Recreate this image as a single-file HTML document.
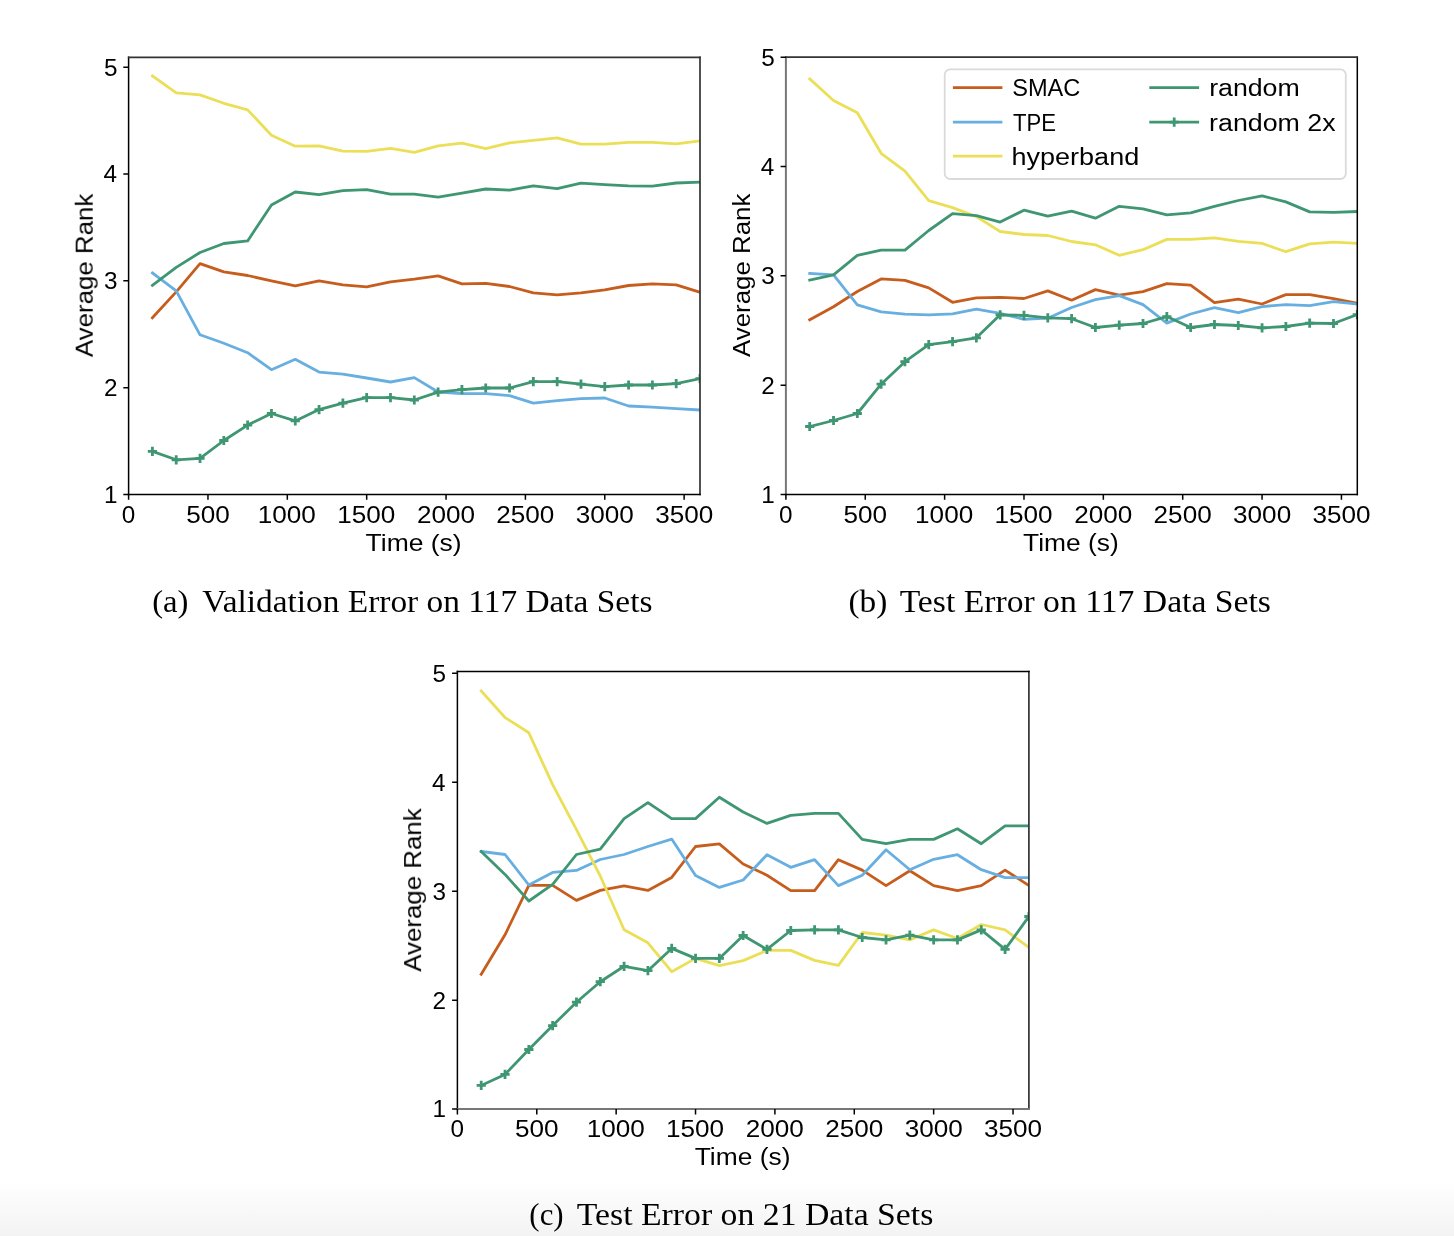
<!DOCTYPE html>
<html><head><meta charset="utf-8"><style>html,body{margin:0;padding:0;background:#fff;width:1454px;height:1236px;overflow:hidden}svg{display:block}text{fill:#000}</style></head><body>
<svg width="1454" height="1236" viewBox="0 0 1454 1236">
<defs><linearGradient id="bg" x1="0" y1="0" x2="0" y2="1"><stop offset="0" stop-color="#ffffff"/><stop offset="1" stop-color="#f3f3f3"/></linearGradient>
<clipPath id="clipa"><rect x="128.6" y="57.3" width="571.4" height="437.2"/></clipPath>
<clipPath id="clipb"><rect x="785.9" y="57.2" width="571.4" height="437.3"/></clipPath>
<clipPath id="clipc"><rect x="457.4" y="671.6" width="571.5000000000001" height="437.4999999999999"/></clipPath>
</defs>
<rect x="0" y="0" width="1454" height="1236" fill="#fff"/>
<rect x="0" y="1182" width="1454" height="54" fill="url(#bg)"/>
<g clip-path="url(#clipa)" fill="none" stroke-width="2.8" stroke-linejoin="round" stroke-linecap="square">
<polyline points="152.41,317.80 176.22,291.90 200.02,263.60 223.83,271.90 247.64,275.50 271.45,280.90 295.26,285.90 319.07,280.90 342.88,284.90 366.68,286.90 390.49,281.90 414.30,279.20 438.11,275.90 461.92,283.90 485.72,283.30 509.53,286.50 533.34,292.90 557.15,294.90 580.96,292.90 604.77,289.90 628.57,285.50 652.38,283.90 676.19,284.90 700.00,292.30" stroke="#c75d1d"/>
<polyline points="152.41,272.90 176.22,290.90 200.02,334.80 223.83,343.30 247.64,352.70 271.45,369.70 295.26,359.30 319.07,372.10 342.88,374.10 366.68,378.00 390.49,382.00 414.30,377.60 438.11,392.00 461.92,393.60 485.72,393.60 509.53,395.60 533.34,403.20 557.15,400.60 580.96,398.60 604.77,398.00 628.57,406.00 652.38,407.20 676.19,408.60 700.00,410.00" stroke="#67afe0"/>
<polyline points="152.41,75.90 176.22,92.90 200.02,94.90 223.83,103.30 247.64,109.90 271.45,135.20 295.26,146.20 319.07,145.80 342.88,151.10 366.68,151.30 390.49,148.30 414.30,152.30 438.11,145.80 461.92,143.20 485.72,148.70 509.53,142.80 533.34,140.40 557.15,137.80 580.96,144.20 604.77,144.20 628.57,142.40 652.38,142.40 676.19,143.80 700.00,140.80" stroke="#ebdf58"/>
<polyline points="152.41,285.40 176.22,267.40 200.02,252.50 223.83,243.50 247.64,240.90 271.45,205.00 295.26,192.00 319.07,194.60 342.88,190.60 366.68,189.60 390.49,194.20 414.30,194.20 438.11,197.20 461.92,193.20 485.72,189.00 509.53,190.20 533.34,185.80 557.15,188.60 580.96,183.20 604.77,184.60 628.57,185.80 652.38,186.20 676.19,183.00 700.00,182.20" stroke="#3f9672"/>
<polyline points="152.41,451.40 176.22,459.80 200.02,458.40 223.83,440.50 247.64,425.10 271.45,413.50 295.26,420.90 319.07,409.60 342.88,403.20 366.68,397.60 390.49,397.60 414.30,400.00 438.11,392.20 461.92,389.60 485.72,388.00 509.53,388.00 533.34,381.60 557.15,381.60 580.96,384.20 604.77,386.60 628.57,385.00 652.38,385.00 676.19,383.60 700.00,378.60" stroke="#3f9672"/>
<path d="M147.81,451.40h9.2M152.41,446.80v9.2M171.62,459.80h9.2M176.22,455.20v9.2M195.42,458.40h9.2M200.02,453.80v9.2M219.23,440.50h9.2M223.83,435.90v9.2M243.04,425.10h9.2M247.64,420.50v9.2M266.85,413.50h9.2M271.45,408.90v9.2M290.66,420.90h9.2M295.26,416.30v9.2M314.47,409.60h9.2M319.07,405.00v9.2M338.27,403.20h9.2M342.88,398.60v9.2M362.08,397.60h9.2M366.68,393.00v9.2M385.89,397.60h9.2M390.49,393.00v9.2M409.70,400.00h9.2M414.30,395.40v9.2M433.51,392.20h9.2M438.11,387.60v9.2M457.32,389.60h9.2M461.92,385.00v9.2M481.12,388.00h9.2M485.72,383.40v9.2M504.93,388.00h9.2M509.53,383.40v9.2M528.74,381.60h9.2M533.34,377.00v9.2M552.55,381.60h9.2M557.15,377.00v9.2M576.36,384.20h9.2M580.96,379.60v9.2M600.17,386.60h9.2M604.77,382.00v9.2M623.97,385.00h9.2M628.57,380.40v9.2M647.78,385.00h9.2M652.38,380.40v9.2M671.59,383.60h9.2M676.19,379.00v9.2M695.40,378.60h9.2M700.00,374.00v9.2" stroke="#3f9672" stroke-width="2.8" stroke-linecap="butt"/>
</g>
<path d="M128.60,56.55V495.25" stroke="#000" stroke-width="1.5" fill="none"/>
<path d="M700.00,56.55V495.25" stroke="#333" stroke-width="1.7" fill="none"/>
<path d="M127.85,57.30H700.75" stroke="#333" stroke-width="1.7" fill="none"/>
<path d="M127.85,494.50H700.75" stroke="#000" stroke-width="1.5" fill="none"/>
<path d="M128.60,494.50v5.3M207.96,494.50v5.3M287.32,494.50v5.3M366.68,494.50v5.3M446.04,494.50v5.3M525.41,494.50v5.3M604.77,494.50v5.3M684.13,494.50v5.3M128.60,494.50h-5.3M128.60,387.67h-5.3M128.60,280.84h-5.3M128.60,174.01h-5.3M128.60,67.18h-5.3" stroke="#000" stroke-width="1.5"/>
<g clip-path="url(#clipb)" fill="none" stroke-width="2.8" stroke-linejoin="round" stroke-linecap="square">
<polyline points="809.71,319.80 833.52,306.80 857.32,291.50 881.13,278.90 904.94,280.30 928.75,287.90 952.56,302.30 976.37,297.90 1000.17,297.30 1023.98,298.50 1047.79,290.90 1071.60,300.20 1095.41,289.60 1119.22,295.20 1143.02,291.60 1166.83,283.70 1190.64,285.20 1214.45,302.60 1238.26,299.20 1262.07,304.00 1285.88,294.60 1309.68,294.60 1333.49,298.60 1357.30,303.20" stroke="#c75d1d"/>
<polyline points="809.71,273.50 833.52,274.90 857.32,304.80 881.13,311.80 904.94,314.20 928.75,314.80 952.56,313.80 976.37,309.20 1000.17,313.40 1023.98,319.40 1047.79,318.20 1071.60,307.50 1095.41,299.60 1119.22,295.60 1143.02,304.60 1166.83,323.10 1190.64,314.00 1214.45,307.60 1238.26,312.60 1262.07,306.60 1285.88,304.60 1309.68,305.60 1333.49,301.60 1357.30,304.00" stroke="#67afe0"/>
<polyline points="809.71,78.90 833.52,100.50 857.32,112.80 881.13,153.30 904.94,171.10 928.75,200.60 952.56,207.60 976.37,216.60 1000.17,231.50 1023.98,234.50 1047.79,235.50 1071.60,241.50 1095.41,244.80 1119.22,255.30 1143.02,249.70 1166.83,239.40 1190.64,239.40 1214.45,237.80 1238.26,241.40 1262.07,243.40 1285.88,251.70 1309.68,243.80 1333.49,242.20 1357.30,243.40" stroke="#ebdf58"/>
<polyline points="809.71,280.00 833.52,274.80 857.32,255.40 881.13,250.10 904.94,250.10 928.75,230.50 952.56,213.60 976.37,215.60 1000.17,222.10 1023.98,210.20 1047.79,216.20 1071.60,211.20 1095.41,218.20 1119.22,206.30 1143.02,208.90 1166.83,214.80 1190.64,212.90 1214.45,206.30 1238.26,200.50 1262.07,195.90 1285.88,201.90 1309.68,211.90 1333.49,212.30 1357.30,211.50" stroke="#3f9672"/>
<polyline points="809.71,426.50 833.52,420.50 857.32,413.50 881.13,384.20 904.94,361.70 928.75,344.70 952.56,341.70 976.37,337.80 1000.17,314.80 1023.98,315.40 1047.79,317.80 1071.60,318.70 1095.41,327.50 1119.22,325.10 1143.02,323.50 1166.83,316.60 1190.64,327.50 1214.45,324.50 1238.26,325.50 1262.07,327.90 1285.88,326.50 1309.68,323.10 1333.49,323.50 1357.30,314.60" stroke="#3f9672"/>
<path d="M805.11,426.50h9.2M809.71,421.90v9.2M828.92,420.50h9.2M833.52,415.90v9.2M852.72,413.50h9.2M857.32,408.90v9.2M876.53,384.20h9.2M881.13,379.60v9.2M900.34,361.70h9.2M904.94,357.10v9.2M924.15,344.70h9.2M928.75,340.10v9.2M947.96,341.70h9.2M952.56,337.10v9.2M971.77,337.80h9.2M976.37,333.20v9.2M995.57,314.80h9.2M1000.17,310.20v9.2M1019.38,315.40h9.2M1023.98,310.80v9.2M1043.19,317.80h9.2M1047.79,313.20v9.2M1067.00,318.70h9.2M1071.60,314.10v9.2M1090.81,327.50h9.2M1095.41,322.90v9.2M1114.62,325.10h9.2M1119.22,320.50v9.2M1138.42,323.50h9.2M1143.02,318.90v9.2M1162.23,316.60h9.2M1166.83,312.00v9.2M1186.04,327.50h9.2M1190.64,322.90v9.2M1209.85,324.50h9.2M1214.45,319.90v9.2M1233.66,325.50h9.2M1238.26,320.90v9.2M1257.47,327.90h9.2M1262.07,323.30v9.2M1281.28,326.50h9.2M1285.88,321.90v9.2M1305.08,323.10h9.2M1309.68,318.50v9.2M1328.89,323.50h9.2M1333.49,318.90v9.2M1352.70,314.60h9.2M1357.30,310.00v9.2" stroke="#3f9672" stroke-width="2.8" stroke-linecap="butt"/>
</g>
<path d="M785.90,56.45V495.25" stroke="#777" stroke-width="2.0" fill="none"/>
<path d="M1357.30,56.45V495.25" stroke="#000" stroke-width="1.5" fill="none"/>
<path d="M785.15,57.20H1358.05" stroke="#333" stroke-width="1.7" fill="none"/>
<path d="M785.15,494.50H1358.05" stroke="#000" stroke-width="1.5" fill="none"/>
<path d="M785.90,494.50v5.3M865.26,494.50v5.3M944.62,494.50v5.3M1023.98,494.50v5.3M1103.34,494.50v5.3M1182.71,494.50v5.3M1262.07,494.50v5.3M1341.43,494.50v5.3M785.90,494.50h-5.3M785.90,385.17h-5.3M785.90,275.84h-5.3M785.90,166.51h-5.3M785.90,57.18h-5.3" stroke="#000" stroke-width="1.5"/>
<g clip-path="url(#clipc)" fill="none" stroke-width="2.8" stroke-linejoin="round" stroke-linecap="square">
<polyline points="481.21,974.30 505.02,934.80 528.84,885.40 552.65,885.40 576.46,900.40 600.27,890.40 624.09,885.80 647.90,890.40 671.71,877.40 695.53,846.50 719.34,843.90 743.15,864.00 766.96,875.20 790.78,890.60 814.59,890.60 838.40,859.70 862.21,870.10 886.03,885.60 909.84,870.70 933.65,885.60 957.46,890.60 981.28,885.60 1005.09,870.10 1028.90,885.60" stroke="#c75d1d"/>
<polyline points="481.21,851.50 505.02,854.50 528.84,885.00 552.65,872.40 576.46,870.40 600.27,859.50 624.09,854.50 647.90,846.50 671.71,839.10 695.53,875.40 719.34,887.40 743.15,880.00 766.96,854.70 790.78,867.30 814.59,859.70 838.40,885.60 862.21,875.20 886.03,849.70 909.84,869.70 933.65,859.30 957.46,854.70 981.28,869.70 1005.09,877.60 1028.90,877.60" stroke="#67afe0"/>
<polyline points="481.21,690.90 505.02,717.50 528.84,732.80 552.65,784.70 576.46,829.60 600.27,876.00 624.09,929.80 647.90,942.80 671.71,971.70 695.53,958.40 719.34,965.70 743.15,960.60 766.96,950.40 790.78,950.40 814.59,960.40 838.40,965.40 862.21,932.50 886.03,935.10 909.84,939.90 933.65,929.90 957.46,938.50 981.28,924.50 1005.09,929.90 1028.90,947.40" stroke="#ebdf58"/>
<polyline points="481.21,851.50 505.02,874.40 528.84,901.00 552.65,884.40 576.46,854.50 600.27,849.10 624.09,818.60 647.90,802.60 671.71,818.60 695.53,818.60 719.34,797.30 743.15,812.00 766.96,823.40 790.78,815.40 814.59,813.40 838.40,813.40 862.21,839.40 886.03,843.70 909.84,839.40 933.65,839.40 957.46,828.80 981.28,843.70 1005.09,825.80 1028.90,825.80" stroke="#3f9672"/>
<polyline points="481.21,1085.40 505.02,1074.40 528.84,1049.50 552.65,1025.60 576.46,1002.20 600.27,981.70 624.09,966.30 647.90,970.70 671.71,948.40 695.53,958.40 719.34,958.40 743.15,935.50 766.96,949.40 790.78,930.50 814.59,929.90 838.40,929.90 862.21,937.50 886.03,939.90 909.84,935.10 933.65,939.90 957.46,939.90 981.28,929.90 1005.09,949.40 1028.90,916.50" stroke="#3f9672"/>
<path d="M476.61,1085.40h9.2M481.21,1080.80v9.2M500.42,1074.40h9.2M505.02,1069.80v9.2M524.24,1049.50h9.2M528.84,1044.90v9.2M548.05,1025.60h9.2M552.65,1021.00v9.2M571.86,1002.20h9.2M576.46,997.60v9.2M595.67,981.70h9.2M600.27,977.10v9.2M619.49,966.30h9.2M624.09,961.70v9.2M643.30,970.70h9.2M647.90,966.10v9.2M667.11,948.40h9.2M671.71,943.80v9.2M690.93,958.40h9.2M695.53,953.80v9.2M714.74,958.40h9.2M719.34,953.80v9.2M738.55,935.50h9.2M743.15,930.90v9.2M762.36,949.40h9.2M766.96,944.80v9.2M786.18,930.50h9.2M790.78,925.90v9.2M809.99,929.90h9.2M814.59,925.30v9.2M833.80,929.90h9.2M838.40,925.30v9.2M857.61,937.50h9.2M862.21,932.90v9.2M881.43,939.90h9.2M886.03,935.30v9.2M905.24,935.10h9.2M909.84,930.50v9.2M929.05,939.90h9.2M933.65,935.30v9.2M952.86,939.90h9.2M957.46,935.30v9.2M976.68,929.90h9.2M981.28,925.30v9.2M1000.49,949.40h9.2M1005.09,944.80v9.2M1024.30,916.50h9.2M1028.90,911.90v9.2" stroke="#3f9672" stroke-width="2.8" stroke-linecap="butt"/>
</g>
<path d="M457.40,670.85V1109.85" stroke="#000" stroke-width="1.5" fill="none"/>
<path d="M1028.90,670.85V1109.85" stroke="#333" stroke-width="1.7" fill="none"/>
<path d="M456.65,671.60H1029.65" stroke="#000" stroke-width="1.5" fill="none"/>
<path d="M456.65,1109.10H1029.65" stroke="#777" stroke-width="2.0" fill="none"/>
<path d="M457.40,1109.10v5.3M536.77,1109.10v5.3M616.15,1109.10v5.3M695.53,1109.10v5.3M774.90,1109.10v5.3M854.28,1109.10v5.3M933.65,1109.10v5.3M1013.03,1109.10v5.3M457.40,1109.10h-5.3M457.40,1000.15h-5.3M457.40,891.20h-5.3M457.40,782.25h-5.3M457.40,673.30h-5.3" stroke="#000" stroke-width="1.5"/>
<rect x="944.7" y="69.3" width="401.1" height="109.7" rx="5.5" ry="5.5" fill="#fff" fill-opacity="0.8" stroke="#dadada" stroke-width="1.8"/>
<path d="M952.9,87.7H1002.4" stroke="#c75d1d" stroke-width="2.8" stroke-linecap="butt"/>
<path d="M952.9,122.2H1002.4" stroke="#67afe0" stroke-width="2.8" stroke-linecap="butt"/>
<path d="M952.9,156.2H1002.4" stroke="#ebdf58" stroke-width="2.8" stroke-linecap="butt"/>
<path d="M1149.3,87.7H1199.1" stroke="#3f9672" stroke-width="2.8" stroke-linecap="butt"/>
<path d="M1149.3,122.2H1199.1" stroke="#3f9672" stroke-width="2.8" stroke-linecap="butt"/>
<path d="M1169.60,122.2h9.2M1174.20,117.60v9.2" stroke="#3f9672" stroke-width="2.8"/>
<g style="opacity:0.999">
<text transform="translate(121.80,522.56) scale(1.0000,1)" font-family="Liberation Sans" font-size="24.3" >0</text>
<text transform="translate(186.15,522.56) scale(1.0750,1)" font-family="Liberation Sans" font-size="24.3" >500</text>
<text transform="translate(257.80,522.56) scale(1.0750,1)" font-family="Liberation Sans" font-size="24.3" >1000</text>
<text transform="translate(337.16,522.56) scale(1.0750,1)" font-family="Liberation Sans" font-size="24.3" >1500</text>
<text transform="translate(416.92,522.56) scale(1.0750,1)" font-family="Liberation Sans" font-size="24.3" >2000</text>
<text transform="translate(496.28,522.56) scale(1.0750,1)" font-family="Liberation Sans" font-size="24.3" >2500</text>
<text transform="translate(575.77,522.56) scale(1.0750,1)" font-family="Liberation Sans" font-size="24.3" >3000</text>
<text transform="translate(655.13,522.56) scale(1.0750,1)" font-family="Liberation Sans" font-size="24.3" >3500</text>
<text transform="translate(104.11,502.88) scale(1.0000,1)" font-family="Liberation Sans" font-size="24.3" >1</text>
<text transform="translate(104.11,396.18) scale(1.0000,1)" font-family="Liberation Sans" font-size="24.3" >2</text>
<text transform="translate(104.11,289.35) scale(1.0000,1)" font-family="Liberation Sans" font-size="24.3" >3</text>
<text transform="translate(103.62,182.39) scale(1.0000,1)" font-family="Liberation Sans" font-size="24.3" >4</text>
<text transform="translate(104.11,75.56) scale(1.0000,1)" font-family="Liberation Sans" font-size="24.3" >5</text>
<text transform="translate(365.57,551.00) scale(1.0908,1)" font-family="Liberation Sans" font-size="24.3" >Time (s)</text>
<text transform="translate(92.70,357.10) rotate(-90) scale(1.0646,1)" font-family="Liberation Sans" font-size="24.3">Average Rank</text>
<text transform="translate(779.10,522.56) scale(1.0000,1)" font-family="Liberation Sans" font-size="24.3" >0</text>
<text transform="translate(843.45,522.56) scale(1.0750,1)" font-family="Liberation Sans" font-size="24.3" >500</text>
<text transform="translate(915.10,522.56) scale(1.0750,1)" font-family="Liberation Sans" font-size="24.3" >1000</text>
<text transform="translate(994.46,522.56) scale(1.0750,1)" font-family="Liberation Sans" font-size="24.3" >1500</text>
<text transform="translate(1074.22,522.56) scale(1.0750,1)" font-family="Liberation Sans" font-size="24.3" >2000</text>
<text transform="translate(1153.58,522.56) scale(1.0750,1)" font-family="Liberation Sans" font-size="24.3" >2500</text>
<text transform="translate(1233.07,522.56) scale(1.0750,1)" font-family="Liberation Sans" font-size="24.3" >3000</text>
<text transform="translate(1312.43,522.56) scale(1.0750,1)" font-family="Liberation Sans" font-size="24.3" >3500</text>
<text transform="translate(761.31,502.88) scale(1.0000,1)" font-family="Liberation Sans" font-size="24.3" >1</text>
<text transform="translate(761.31,393.68) scale(1.0000,1)" font-family="Liberation Sans" font-size="24.3" >2</text>
<text transform="translate(761.31,284.35) scale(1.0000,1)" font-family="Liberation Sans" font-size="24.3" >3</text>
<text transform="translate(760.82,174.89) scale(1.0000,1)" font-family="Liberation Sans" font-size="24.3" >4</text>
<text transform="translate(761.31,65.56) scale(1.0000,1)" font-family="Liberation Sans" font-size="24.3" >5</text>
<text transform="translate(1023.07,551.00) scale(1.0862,1)" font-family="Liberation Sans" font-size="24.3" >Time (s)</text>
<text transform="translate(750.00,357.00) rotate(-90) scale(1.0646,1)" font-family="Liberation Sans" font-size="24.3">Average Rank</text>
<text transform="translate(450.60,1136.56) scale(1.0000,1)" font-family="Liberation Sans" font-size="24.3" >0</text>
<text transform="translate(514.96,1136.56) scale(1.0750,1)" font-family="Liberation Sans" font-size="24.3" >500</text>
<text transform="translate(586.63,1136.56) scale(1.0750,1)" font-family="Liberation Sans" font-size="24.3" >1000</text>
<text transform="translate(666.01,1136.56) scale(1.0750,1)" font-family="Liberation Sans" font-size="24.3" >1500</text>
<text transform="translate(745.77,1136.56) scale(1.0750,1)" font-family="Liberation Sans" font-size="24.3" >2000</text>
<text transform="translate(825.15,1136.56) scale(1.0750,1)" font-family="Liberation Sans" font-size="24.3" >2500</text>
<text transform="translate(904.65,1136.56) scale(1.0750,1)" font-family="Liberation Sans" font-size="24.3" >3000</text>
<text transform="translate(984.03,1136.56) scale(1.0750,1)" font-family="Liberation Sans" font-size="24.3" >3500</text>
<text transform="translate(432.61,1117.48) scale(1.0000,1)" font-family="Liberation Sans" font-size="24.3" >1</text>
<text transform="translate(432.61,1008.65) scale(1.0000,1)" font-family="Liberation Sans" font-size="24.3" >2</text>
<text transform="translate(432.61,899.70) scale(1.0000,1)" font-family="Liberation Sans" font-size="24.3" >3</text>
<text transform="translate(432.12,790.63) scale(1.0000,1)" font-family="Liberation Sans" font-size="24.3" >4</text>
<text transform="translate(432.61,681.68) scale(1.0000,1)" font-family="Liberation Sans" font-size="24.3" >5</text>
<text transform="translate(694.67,1165.20) scale(1.0862,1)" font-family="Liberation Sans" font-size="24.3" >Time (s)</text>
<text transform="translate(421.10,971.70) rotate(-90) scale(1.0646,1)" font-family="Liberation Sans" font-size="24.3">Average Rank</text>
<text transform="translate(1012.22,96.40) scale(0.9715,1)" font-family="Liberation Sans" font-size="24.3" >SMAC</text>
<text transform="translate(1012.96,130.90) scale(0.9106,1)" font-family="Liberation Sans" font-size="24.3" >TPE</text>
<text transform="translate(1011.51,164.90) scale(1.1126,1)" font-family="Liberation Sans" font-size="24.3" >hyperband</text>
<text transform="translate(1209.13,96.40) scale(1.1000,1)" font-family="Liberation Sans" font-size="24.3" >random</text>
<text transform="translate(1209.12,130.90) scale(1.1024,1)" font-family="Liberation Sans" font-size="24.3" >random 2x</text>
<text transform="translate(152.19,611.60) scale(1.0554,1)" font-family="Liberation Serif" font-size="31" >(a)</text>
<text transform="translate(202.27,611.60) scale(1.0769,1)" font-family="Liberation Serif" font-size="31" >Validation Error on 117 Data Sets</text>
<text transform="translate(848.47,611.60) scale(1.0753,1)" font-family="Liberation Serif" font-size="31" >(b)</text>
<text transform="translate(899.63,611.60) scale(1.0862,1)" font-family="Liberation Serif" font-size="31" >Test Error on 117 Data Sets</text>
<text transform="translate(529.37,1225.10) scale(0.9959,1)" font-family="Liberation Serif" font-size="31" >(c)</text>
<text transform="translate(576.83,1225.10) scale(1.0887,1)" font-family="Liberation Serif" font-size="31" >Test Error on 21 Data Sets</text>
</g>
</svg>
</body></html>
